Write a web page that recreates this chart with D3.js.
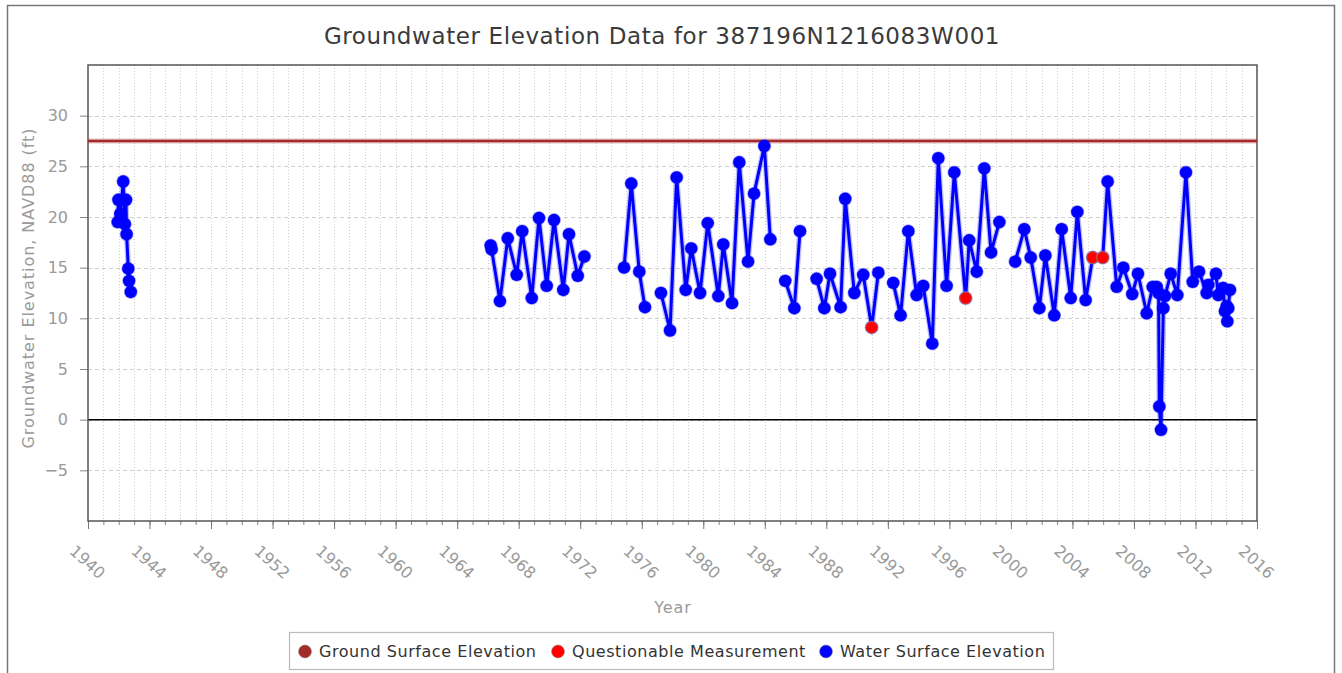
<!DOCTYPE html>
<html>
<head>
<meta charset="utf-8">
<script src="https://cdn.jsdelivr.net/npm/d3@7"></script>
<style>
  html, body { margin: 0; padding: 0; background: #fff; }
  svg { display: block; font-family: "DejaVu Sans", Verdana, sans-serif; }
</style>
</head>
<body>
<svg id="chart" width="1342" height="673"></svg>
<script>
// ---------------- DATA ----------------
const chartTitle = "Groundwater Elevation Data for 387196N1216083W001";
const xAxisTitle = "Year";
const yAxisTitle = "Groundwater Elevation, NAVD88 (ft)";
const seriesNames = ["Ground Surface Elevation", "Questionable Measurement", "Water Surface Elevation"];

// Sample dates (decimal years); null marks a break in the line
const sampleYears = [
  1941.93, 1941.98, 1942.10, 1942.29, 1942.40, 1942.47, 1942.51, 1942.62, 1942.67, 1942.78,
  null,
  1966.18, 1966.24, 1966.78, 1967.29, 1967.87, 1968.23, 1968.85, 1969.32, 1969.82, 1970.30,
  1970.90, 1971.27, 1971.84, 1972.27,
  null,
  1974.85, 1975.32, 1975.84, 1976.21,
  null,
  1977.25, 1977.84, 1978.27, 1978.86, 1979.22, 1979.79, 1980.29, 1980.98, 1981.30, 1981.87,
  1982.34, 1982.91, 1983.30, 1983.97, 1984.36,
  null,
  1985.33, 1985.92, 1986.29,
  null,
  1987.37, 1987.87, 1988.24, 1988.93, 1989.23, 1989.82, 1990.40, 1990.95, 1991.38,
  null,
  1992.35, 1992.83, 1993.33, 1993.87, 1994.30, 1994.89, 1995.28, 1995.82, 1996.32, 1997.06,
  1997.29, 1997.78, 1998.27, 1998.71, 1999.25,
  null,
  2000.28, 2000.87, 2001.29, 2001.85, 2002.24, 2002.82, 2003.30, 2003.89, 2004.32, 2004.86,
  2005.32, 2005.97, 2006.29, 2006.88, 2007.31, 2007.89, 2008.26, 2008.83, 2009.22, 2009.48,
  2009.60, 2009.65, 2009.76, 2009.91, 2010.02, 2010.39, 2010.82, 2011.38, 2011.82, 2012.23,
  2012.73, 2012.83, 2013.33, 2013.48, 2013.80, 2013.92, 2014.03, 2014.07, 2014.13, 2014.24
];
const waterElevation = [
  19.5, 21.7, 20.3, 23.5, 19.3, 21.7, 18.3, 14.9, 13.7, 12.6,
  null,
  17.2, 16.8, 11.7, 17.9, 14.3, 18.6, 12.0, 19.9, 13.2, 19.7,
  12.8, 18.3, 14.2, 16.1,
  null,
  15.0, 23.3, 14.6, 11.1,
  null,
  12.5, 8.8, 23.9, 12.8, 16.9, 12.5, 19.4, 12.2, 17.3, 11.5,
  25.4, 15.6, 22.3, 27.0, 17.8,
  null,
  13.7, 11.0, 18.6,
  null,
  13.9, 11.0, 14.4, 11.1, 21.8, 12.5, 14.3, 9.1, 14.5,
  null,
  13.5, 10.3, 18.6, 12.3, 13.2, 7.5, 25.8, 13.2, 24.4, 12.0,
  17.7, 14.6, 24.8, 16.5, 19.5,
  null,
  15.6, 18.8, 16.0, 11.0, 16.2, 10.3, 18.8, 12.0, 20.5, 11.8,
  16.0, 16.0, 23.5, 13.1, 15.0, 12.4, 14.4, 10.5, 13.1, 13.1,
  12.5, 1.3, -1.0, 11.0, 12.2, 14.4, 12.3, 24.4, 13.6, 14.6,
  12.5, 13.3, 14.4, 12.3, 13.0, 10.7, 11.2, 9.7, 11.0, 12.8
];

// Questionable measurements (drawn over the water surface series)
const questionableYears = [1990.95, 1997.06, 2005.32, 2005.97];
const questionableValues = [9.1, 12.0, 16.0, 16.0];

// Ground surface elevation (constant reference line)
const groundSurfaceYears = [1940, 2016];
const groundSurfaceValues = [27.5, 27.5];

// Axis settings
const xDomain = [1940, 2016];
const yDomain = [-10, 35];
const xTickLabels = d3.range(1940, 2017, 4);
const xMinorTicks = d3.range(1940, 2017, 1);
const yTickLabels = [-5, 0, 5, 10, 15, 20, 25, 30];

// ---------------- DRAW ----------------
const svg = d3.select("#chart");
const plot = { left: 88, top: 65, right: 1257, bottom: 521 };

const x = d3.scaleLinear().domain(xDomain).range([plot.left, plot.right]);
const y = d3.scaleLinear().domain(yDomain).range([plot.bottom, plot.top]);

const colors = { ground: "#a52a2a", quest: "#ff0000", water: "#0000ff" };
const gray = "#9a9a9a";
const FONT = "DejaVu Sans, Verdana, sans-serif";

// outer frame
svg.append("rect")
  .attr("x", 7.5).attr("y", 5.5)
  .attr("width", 1327).attr("height", 720)
  .attr("fill", "#fff").attr("stroke", "#777").attr("stroke-width", 1.5);

// title
svg.append("text")
  .attr("x", 662).attr("y", 44)
  .attr("text-anchor", "middle")
  .attr("font-size", 23)
  .attr("letter-spacing", 0.6)
  .attr("fill", "#3a3a3a")
  .text(chartTitle);

// vertical grid (every year, dotted)
svg.append("g").selectAll("line")
  .data(xMinorTicks.filter(d => d > xDomain[0] && d < xDomain[1]))
  .join("line")
  .attr("x1", d => Math.round(x(d)) + 0.5).attr("x2", d => Math.round(x(d)) + 0.5)
  .attr("y1", plot.top).attr("y2", plot.bottom)
  .attr("stroke", "#d0d0d0").attr("stroke-width", 1)
  .attr("stroke-dasharray", "1,2");

// horizontal grid (dashed)
svg.append("g").selectAll("line")
  .data(yTickLabels)
  .join("line")
  .attr("x1", plot.left).attr("x2", plot.right)
  .attr("y1", d => Math.round(y(d)) + 0.5).attr("y2", d => Math.round(y(d)) + 0.5)
  .attr("stroke", "#d0d0d0").attr("stroke-width", 1)
  .attr("stroke-dasharray", "4,3");

// zero line
svg.append("line")
  .attr("x1", plot.left).attr("x2", plot.right)
  .attr("y1", y(0)).attr("y2", y(0))
  .attr("stroke", "#000").attr("stroke-width", 1.5);

// y axis
const yAxis = d3.axisLeft(y).tickValues(yTickLabels).tickSize(8).tickPadding(12).tickFormat(d3.format("d"));
const gy = svg.append("g").attr("transform", `translate(${plot.left},0)`).call(yAxis);
gy.select(".domain").remove();
gy.selectAll(".tick line").attr("stroke", "#888");
gy.selectAll(".tick text").attr("fill", gray).attr("font-size", 16).attr("font-family", FONT);

// minor x ticks
const xMinor = d3.axisBottom(x).tickValues(xMinorTicks).tickSize(4).tickFormat("");
const gxm = svg.append("g").attr("transform", `translate(0,${plot.bottom})`).call(xMinor);
gxm.select(".domain").remove();
gxm.selectAll(".tick line").attr("stroke", "#888");

// major x ticks with rotated labels
const xAxis = d3.axisBottom(x).tickValues(xTickLabels).tickSize(8).tickFormat(d3.format("d"));
const gx = svg.append("g").attr("transform", `translate(0,${plot.bottom})`).call(xAxis);
gx.select(".domain").remove();
gx.selectAll(".tick line").attr("stroke", "#777");
gx.selectAll(".tick text")
  .attr("fill", gray).attr("font-size", 16).attr("font-family", FONT)
  .attr("text-anchor", "middle")
  .attr("dy", "0.35em")
  .attr("y", 0)
  .attr("transform", "translate(-1,41) rotate(42)");

// plot border
svg.append("rect")
  .attr("x", plot.left).attr("y", plot.top)
  .attr("width", plot.right - plot.left).attr("height", plot.bottom - plot.top)
  .attr("fill", "none").attr("stroke", "#555").attr("stroke-width", 1.5);

// axis titles
svg.append("text")
  .attr("x", 673).attr("y", 613)
  .attr("text-anchor", "middle").attr("font-size", 16).attr("letter-spacing", 0.9).attr("fill", gray)
  .text(xAxisTitle);
svg.append("text")
  .attr("transform", `translate(34,288) rotate(-90)`)
  .attr("text-anchor", "middle").attr("font-size", 16).attr("letter-spacing", 0.95).attr("fill", gray)
  .text(yAxisTitle);

// ground surface line
const groundData = groundSurfaceYears.map((d, i) => ({ x: d, y: groundSurfaceValues[i] }));
const lineGen = d3.line().defined(d => d.x !== null && d.y !== null).x(d => x(d.x)).y(d => y(d.y));
svg.append("path").datum(groundData).attr("d", lineGen)
  .attr("fill", "none").attr("stroke", colors.ground).attr("stroke-opacity", 0.3).attr("stroke-width", 5);
svg.append("path").datum(groundData).attr("d", lineGen)
  .attr("fill", "none").attr("stroke", colors.ground).attr("stroke-width", 2.5);

// water surface series
const waterData = sampleYears.map((d, i) => ({ x: d, y: waterElevation[i] }));
svg.append("path").datum(waterData).attr("d", lineGen)
  .attr("fill", "none").attr("stroke", colors.water).attr("stroke-opacity", 0.25)
  .attr("stroke-width", 5.5).attr("stroke-linejoin", "round");
svg.append("path").datum(waterData).attr("d", lineGen)
  .attr("fill", "none").attr("stroke", colors.water)
  .attr("stroke-width", 3).attr("stroke-linejoin", "round");
svg.append("g").selectAll("circle")
  .data(waterData.filter(d => d.x !== null && d.y !== null))
  .join("circle")
  .attr("cx", d => x(d.x)).attr("cy", d => y(d.y)).attr("r", 6.2)
  .attr("fill", colors.water).attr("stroke", colors.water).attr("stroke-opacity", 0.3).attr("stroke-width", 1.5);

// questionable markers
const questData = questionableYears.map((d, i) => ({ x: d, y: questionableValues[i] }));
svg.append("g").selectAll("circle")
  .data(questData)
  .join("circle")
  .attr("cx", d => x(d.x)).attr("cy", d => y(d.y)).attr("r", 6.2)
  .attr("fill", colors.quest).attr("stroke", "#999").attr("stroke-opacity", 0.5).attr("stroke-width", 1.5);

// legend
const legend = svg.append("g");
legend.append("rect")
  .attr("x", 289.5).attr("y", 632.5).attr("width", 764).attr("height", 37)
  .attr("fill", "#fff").attr("stroke", "#bbb").attr("stroke-width", 1.2);
const legendItems = [
  { name: seriesNames[0], color: colors.ground, cx: 305 },
  { name: seriesNames[1], color: colors.quest, cx: 558 },
  { name: seriesNames[2], color: colors.water, cx: 826 }
];
const li = legend.selectAll("g.item").data(legendItems).join("g").attr("class", "item");
li.append("circle").attr("cx", d => d.cx).attr("cy", 651.5).attr("r", 6.5)
  .attr("fill", d => d.color).attr("stroke", "#888").attr("stroke-opacity", 0.5);
li.append("text").attr("x", d => d.cx + 14).attr("y", 657)
  .attr("font-size", 16).attr("letter-spacing", 0.55).attr("fill", "#333").text(d => d.name);
</script>
</body>
</html>
